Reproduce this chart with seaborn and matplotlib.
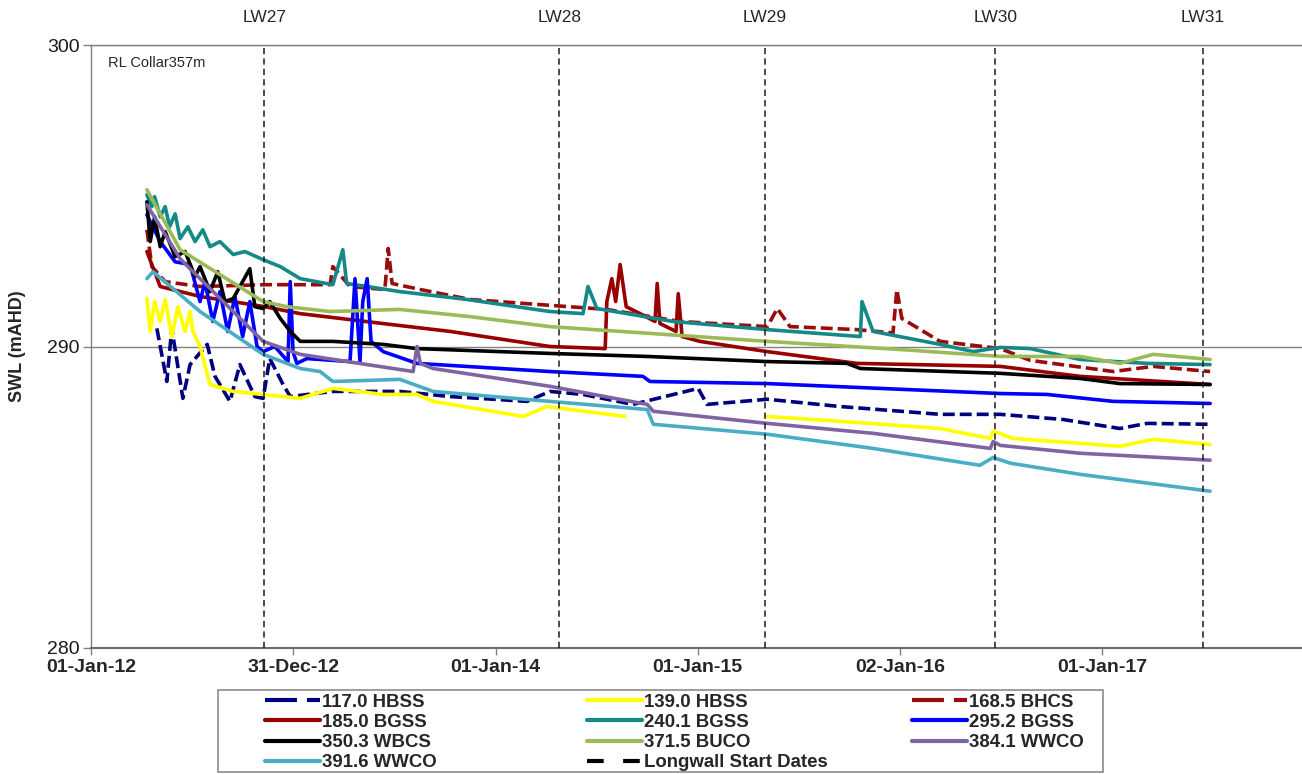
import numpy as np
import pandas as pd
import matplotlib
matplotlib.use("Agg")
import matplotlib.pyplot as plt
from matplotlib.lines import Line2D
from matplotlib.patches import Rectangle
from matplotlib.transforms import blended_transform_factory
import seaborn as sns

sns.set_style("white")
plt.rcParams["font.family"] = ["Liberation Sans", "DejaVu Sans"]
plt.rcParams["lines.scale_dashes"] = False

nan = np.nan

# standing water levels (mAHD) per piezometer
d117 = ["2012-04-29", "2012-05-17", "2012-05-26", "2012-06-15", "2012-06-28", "2012-07-29", "2012-08-12",
        "2012-09-08", "2012-09-26", "2012-10-23", "2012-11-07", "2012-11-19", "2012-12-13", "2012-12-26",
        "2013-03-13", "2013-07-12", "2013-10-11", "2014-02-27", "2014-04-09", "2014-06-08", "2014-09-06",
        "2015-01-02", "2015-01-18", "2015-05-07", "2015-09-15", "2016-03-14", "2016-07-01", "2016-10-22",
        "2017-02-02", "2017-03-23", "2017-07-15"]
v117 = [290.60, 288.84, 290.60, 288.28, 289.40, 290.07, 289.01, 288.18, 289.40, 288.34, 288.28, 289.60,
        288.74, 288.34, 288.51, 288.51, 288.34, 288.18, 288.51, 288.41, 288.08, 288.61, 288.08, 288.25,
        288.01, 287.75, 287.75, 287.58, 287.28, 287.45, 287.42]

d139 = ["2012-04-11", "2012-04-17", "2012-04-25", "2012-05-05", "2012-05-14", "2012-05-26", "2012-06-06",
        "2012-06-19", "2012-06-28", "2012-07-03", "2012-07-16", "2012-08-03", "2012-09-14", "2012-11-07",
        "2013-01-13", "2013-03-13", "2013-06-12", "2013-08-12", "2013-09-10", "2014-02-20", "2014-04-04",
        "2014-08-23", "2014-10-01", "2015-05-07", "2015-09-15", "2016-03-14", "2016-06-13", "2016-06-18",
        "2016-07-24", "2017-02-02", "2017-04-03", "2017-07-15"]
v139 = [291.59, 290.50, 291.49, 290.83, 291.56, 290.33, 291.32, 290.50, 291.16, 290.50, 290.00, 288.74,
        288.51, 288.41, 288.28, 288.61, 288.41, 288.41, 288.18, 287.68, 288.01, 287.68, nan, 287.68,
        287.52, 287.28, 286.95, 287.19, 286.95, 286.69, 286.92, 286.75]

d168 = ["2012-04-11", "2012-04-20", "2012-05-14", "2012-07-16", "2012-11-10", "2013-01-13", "2013-03-08",
        "2013-03-13", "2013-04-13", "2013-06-15", "2013-06-21", "2013-06-28", "2013-08-18", "2013-11-16",
        "2014-03-22", "2014-07-21", "2014-11-30", "2015-05-07", "2015-05-25", "2015-06-17", "2015-10-16",
        "2015-12-20", "2015-12-27", "2016-01-05", "2016-03-14", "2016-07-01", "2016-08-24", "2017-01-21",
        "2017-04-03", "2017-07-15"]
v168 = [293.87, 292.65, 292.15, 291.99, 292.05, 292.05, 292.05, 292.65, 291.99, 291.89, 293.25, 292.09,
        291.89, 291.56, 291.39, 291.23, 290.83, 290.66, 291.26, 290.66, 290.56, 290.45, 291.89, 290.93,
        290.17, 289.93, 289.54, 289.17, 289.34, 289.17]

d185 = ["2012-04-11", "2012-05-05", "2012-07-16", "2012-11-10", "2013-01-13", "2013-06-12", "2013-10-11",
        "2014-04-09", "2014-07-18", "2014-07-21", "2014-07-30", "2014-08-06", "2014-08-14", "2014-08-25",
        "2014-09-19", "2014-10-16", "2014-10-20", "2014-10-25", "2014-11-23", "2014-11-27", "2014-12-04",
        "2015-01-05", "2015-05-07", "2015-10-16", "2016-07-01", "2016-11-22", "2017-07-15"]
v185 = [293.15, 291.99, 291.66, 291.32, 291.09, 290.76, 290.50, 290.00, 289.93, 291.49, 292.25, 291.49,
        292.72, 291.32, 291.09, 290.83, 292.09, 290.76, 290.50, 291.75, 290.33, 290.17, 289.83, 289.44,
        289.34, 289.01, 288.74]

d240 = ["2012-04-11", "2012-04-20", "2012-04-25", "2012-05-05", "2012-05-14", "2012-05-22", "2012-06-01",
        "2012-06-10", "2012-06-24", "2012-07-07", "2012-07-21", "2012-08-03", "2012-08-21", "2012-09-14",
        "2012-10-05", "2012-11-07", "2012-12-08", "2013-01-13", "2013-03-13", "2013-03-31", "2013-04-07",
        "2013-05-14", "2013-07-12", "2013-11-10", "2014-04-09", "2014-06-08", "2014-06-17", "2014-07-03",
        "2014-11-18", "2015-05-07", "2015-10-22", "2015-10-25", "2015-11-14", "2016-03-14", "2016-05-13",
        "2016-07-01", "2016-08-24", "2016-11-22", "2017-03-23", "2017-07-15"]
v240 = [295.03, 294.64, 294.97, 294.30, 294.64, 293.97, 294.40, 293.58, 293.97, 293.48, 293.87, 293.31,
        293.48, 293.05, 293.15, 292.88, 292.65, 292.25, 292.05, 293.21, 292.09, 291.99, 291.82, 291.56,
        291.16, 291.09, 291.99, 291.26, 290.83, 290.56, 290.33, 291.49, 290.50, 290.07, 289.83, 289.97,
        289.93, 289.57, 289.44, 289.40]

d295 = ["2012-04-11", "2012-05-05", "2012-06-01", "2012-06-28", "2012-07-16", "2012-07-25", "2012-08-08",
        "2012-08-21", "2012-09-04", "2012-09-17", "2012-10-01", "2012-10-14", "2012-10-27", "2012-11-07",
        "2012-11-28", "2012-12-22", "2012-12-26", "2012-12-31", "2013-01-07", "2013-01-25", "2013-04-13",
        "2013-04-22", "2013-05-01", "2013-05-06", "2013-05-14", "2013-05-21", "2013-06-12", "2013-08-12",
        "2014-04-09", "2014-09-24", "2014-10-07", "2015-05-07", "2016-07-01", "2016-09-23", "2017-01-21",
        "2017-07-15"]
v295 = [294.37, 293.48, 292.81, 292.72, 291.49, 292.15, 290.83, 291.82, 290.50, 291.66, 290.33, 291.49,
        290.00, 289.83, 290.00, 289.50, 292.15, 289.83, 289.44, 289.60, 289.50, 292.25, 289.50, 291.49,
        292.25, 290.17, 289.83, 289.44, 289.17, 289.01, 288.84, 288.77, 288.44, 288.41, 288.18, 288.11]

d350 = ["2012-04-11", "2012-04-17", "2012-04-25", "2012-05-05", "2012-05-14", "2012-06-01", "2012-06-19",
        "2012-07-07", "2012-07-16", "2012-08-03", "2012-08-17", "2012-08-30", "2012-09-14", "2012-09-26",
        "2012-10-14", "2012-10-23", "2012-11-07", "2012-11-19", "2012-12-08", "2012-12-26", "2013-01-13",
        "2013-03-13", "2013-06-12", "2013-08-12", "2014-04-09", "2014-10-02", "2015-05-07", "2015-09-28",
        "2015-10-22", "2016-07-01", "2016-11-22", "2017-02-02", "2017-07-15"]
v350 = [294.80, 293.48, 294.30, 293.31, 293.81, 292.98, 293.15, 292.32, 292.65, 291.82, 292.48, 291.49,
        291.59, 291.99, 292.58, 291.32, 291.26, 291.49, 290.93, 290.50, 290.17, 290.17, 290.07, 289.93,
        289.77, 289.67, 289.50, 289.44, 289.27, 289.11, 288.94, 288.77, 288.74]

d371 = ["2012-04-11", "2012-06-10", "2012-11-07", "2012-12-20", "2013-03-08", "2013-07-12", "2013-11-16",
        "2014-04-09", "2015-05-07", "2016-01-02", "2016-07-01", "2016-11-22", "2017-02-02", "2017-04-03",
        "2017-07-15"]
v371 = [295.20, 293.21, 291.49, 291.32, 291.16, 291.23, 290.99, 290.66, 290.17, 289.90, 289.67, 289.67,
        289.44, 289.74, 289.57]

d384 = ["2012-04-11", "2012-06-10", "2012-11-07", "2013-01-13", "2013-05-14", "2013-08-05", "2013-08-12",
        "2013-08-18", "2013-09-10", "2014-04-09", "2014-10-02", "2014-10-13", "2015-05-07", "2015-11-14",
        "2016-06-13", "2016-06-18", "2016-07-01", "2016-11-22", "2017-07-15"]
v384 = [294.70, 292.91, 290.17, 289.74, 289.40, 289.17, 290.00, 289.44, 289.27, 288.68, 288.08, 287.85,
        287.45, 287.12, 286.62, 286.85, 286.72, 286.46, 286.23]

d391 = ["2012-04-11", "2012-04-22", "2012-07-16", "2012-11-07", "2013-01-13", "2013-02-18", "2013-03-13",
        "2013-07-12", "2013-09-10", "2014-04-09", "2014-10-02", "2014-10-13", "2015-05-07", "2015-11-14",
        "2016-05-25", "2016-06-18", "2016-07-19", "2016-11-22", "2017-07-15"]
v391 = [292.25, 292.48, 291.16, 289.74, 289.27, 289.17, 288.84, 288.91, 288.51, 288.18, 287.91, 287.42,
        287.09, 286.62, 286.06, 286.32, 286.13, 285.76, 285.20]

labels = ["117.0 HBSS", "139.0 HBSS", "168.5 BHCS", "185.0 BGSS", "240.1 BGSS",
          "295.2 BGSS", "350.3 WBCS", "371.5 BUCO", "384.1 WWCO", "391.6 WWCO"]
dates = [d117, d139, d168, d185, d240, d295, d350, d371, d384, d391]
levels = [v117, v139, v168, v185, v240, v295, v350, v371, v384, v391]
colors = ["#00007f", "#ffff00", "#9a0c0c", "#990000", "#138a88",
          "#0000ff", "#000000", "#9bbb59", "#8064a2", "#4bacc6"]
dashed = ["117.0 HBSS", "168.5 BHCS"]

lw_dates = ["2012-11-09", "2014-04-26", "2015-05-03", "2016-06-22", "2017-07-02"]
lw_names = ["LW27", "LW28", "LW29", "LW30", "LW31"]

tick_dates = ["2012-01-01", "2012-12-31", "2014-01-01", "2015-01-01", "2016-01-02", "2017-01-01"]
tick_labels = ["01-Jan-12", "31-Dec-12", "01-Jan-14", "01-Jan-15", "02-Jan-16", "01-Jan-17"]

# long table, a NaN splits a record into separate segments
frames = []
for lab, d, v in zip(labels, dates, levels):
    part = pd.DataFrame({"date": pd.to_datetime(d), "level": v, "series": lab})
    part["seg"] = part["level"].isna().cumsum()
    frames.append(part.dropna())
df = pd.concat(frames, ignore_index=True)

palette = dict(zip(labels, colors))
dash_map = {lab: ((8.6, 3.6) if lab in dashed else "") for lab in labels}

W, H = 1302, 774
fig = plt.figure(figsize=(W / 100, H / 100), dpi=100)
ax = fig.add_axes([91 / W, 126 / H, 1211 / W, 603 / H])

sns.lineplot(data=df, x="date", y="level", hue="series", style="series", units="seg",
             estimator=None, hue_order=labels, style_order=labels, palette=palette,
             dashes=dash_map, lw=2.6, legend=False, sort=False, ax=ax)

for d, name in zip(lw_dates, lw_names):
    ax.axvline(pd.Timestamp(d), color="#1a1a1a", lw=1.1, dashes=(4.5, 3), zorder=5)
trans = blended_transform_factory(ax.transData, ax.transAxes)
for d, name in zip(lw_dates, lw_names):
    ax.text(pd.Timestamp(d), 1.045, name, transform=trans, ha="center", va="center",
            fontsize=12.5, clip_on=False)

ax.set_xlim(pd.Timestamp("2012-01-01"), pd.Timestamp("2017-12-28"))
ax.set_ylim(280, 300)
ax.set_yticks([280, 290, 300])
ax.set_xticks(pd.to_datetime(tick_dates))
ax.set_xticklabels(tick_labels, fontweight="bold")
ax.set_xlabel("")
ax.set_ylabel("SWL (mAHD)", fontsize=13, fontweight="bold", va="center")
ax.yaxis.set_label_coords(-73 / 1211, 0.5)

ax.yaxis.grid(True, color="#808080", lw=1.0)
ax.xaxis.grid(False)
for side in ["left", "top"]:
    ax.spines[side].set_color("#808080")
    ax.spines[side].set_linewidth(1.0)
ax.spines["bottom"].set_color("#6e6e6e")
ax.spines["bottom"].set_linewidth(1.5)
ax.spines["right"].set_visible(False)
ax.tick_params(axis="y", left=True, direction="out", length=6, width=1, color="#808080",
               labelsize=14, pad=2, labelcolor="#1a1a1a")
ax.tick_params(axis="x", bottom=True, direction="out", length=5, width=1, color="#808080",
               labelsize=14, pad=3)

ax.text(0.014, 0.97, "RL Collar357m", transform=ax.transAxes, fontsize=10.5, va="center")

# legend: box plus three columns laid out like the spreadsheet legend
fig.patches.append(Rectangle((218 / W, 2 / H), (1103 - 218) / W, (772 - 690) / H,
                             transform=fig.transFigure, fill=False, edgecolor="#8c8c8c", lw=1.2))

handles = []
for lab, c in zip(labels, colors):
    if lab in dashed:
        handles.append(Line2D([], [], color=c, lw=3, dashes=(23, 7.2)))
    else:
        handles.append(Line2D([], [], color=c, lw=3))
handles.append(Line2D([], [], color="black", lw=3, dashes=(12, 14)))
all_labels = labels + ["Longwall Start Dates"]

columns = [[0, 3, 6, 9], [1, 4, 7, 10], [2, 5, 8]]
col_x = [265, 587, 912]
for idx, x in zip(columns, col_x):
    fig.legend([handles[i] for i in idx], [all_labels[i] for i in idx], loc="upper left",
               bbox_to_anchor=(x / W, (H - 693.5) / H), bbox_transform=fig.transFigure,
               frameon=False, borderpad=0, borderaxespad=0, handlelength=2.93,
               handletextpad=0.15, labelspacing=0.175,
               prop={"weight": "bold", "size": 13.4})

fig.savefig("out.png", dpi=100, facecolor="white")
